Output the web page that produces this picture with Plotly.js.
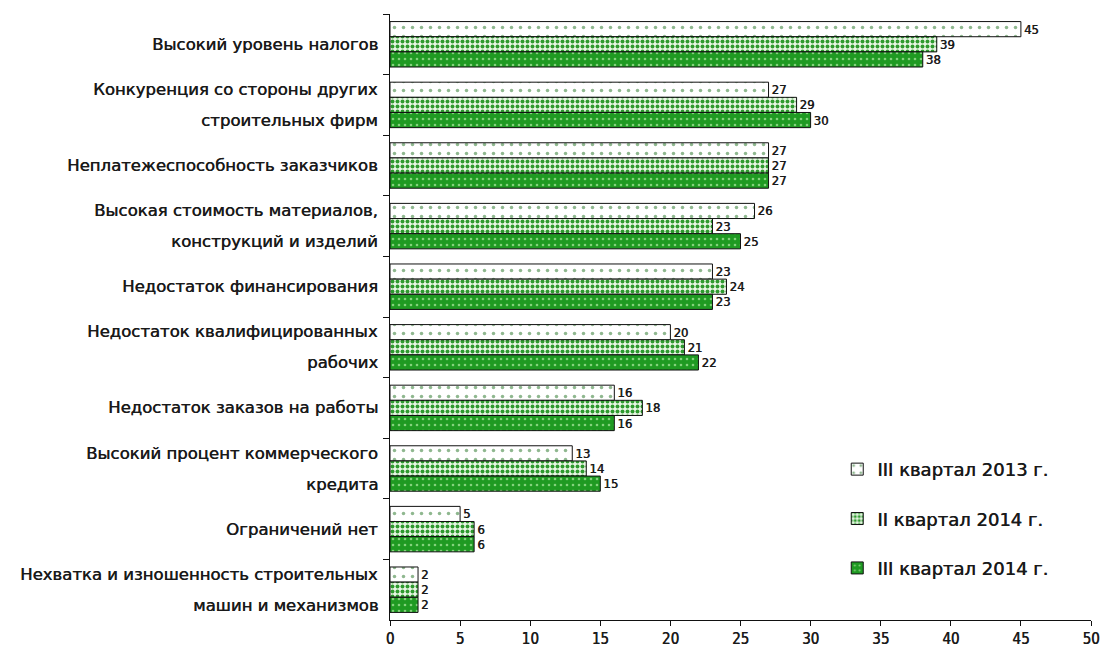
<!DOCTYPE html>
<html>
<head>
<meta charset="utf-8">
<script src="https://cdn.plot.ly/plotly-3.0.1.min.js"></script>
<style>
  html, body { margin: 0; padding: 0; background: #ffffff; }
  #chart { width: 1108px; height: 664px; }
</style>
</head>
<body>
<div id="chart"></div>
<script>
// Factors limiting construction activity, % of firms
const categories = [
  "Высокий уровень налогов",
  "Конкуренция со стороны других<br>строительных фирм",
  "Неплатежеспособность заказчиков",
  "Высокая стоимость материалов,<br>конструкций и изделий",
  "Недостаток финансирования",
  "Недостаток квалифицированных<br>рабочих",
  "Недостаток заказов на работы",
  "Высокий процент коммерческого<br>кредита",
  "Ограничений нет",
  "Нехватка и изношенность строительных<br>машин и механизмов"
];
const seriesNames = ["III квартал 2013 г.", "II квартал 2014 г.", "III квартал 2014 г."];
const q3_2013 = [45, 27, 27, 26, 23, 20, 16, 13, 5, 2];
const q2_2014 = [39, 29, 27, 23, 24, 21, 18, 14, 6, 2];
const q3_2014 = [38, 30, 27, 25, 23, 22, 16, 15, 6, 2];
const xTicks = [0, 5, 10, 15, 20, 25, 30, 35, 40, 45, 50];

const FONT_NARROW = "'DejaVu Sans Condensed', 'Liberation Sans Narrow', sans-serif";
const FONT_WIDE = "'DejaVu Sans', Verdana, sans-serif";
const INK = "#1a1a1a";
// a hairline offset copy gives the labels a medium weight
const THICKEN = "0.5px 0 0 #1a1a1a";

const patterns = [
  { shape: ".", bgcolor: "#ffffff", fgcolor: "#8fb88f", size: 9, solidity: 0.12 },
  { shape: ".", bgcolor: "#eaf7e6", fgcolor: "#2f9a2f", size: 5, solidity: 0.5 },
  { shape: ".", bgcolor: "#1f9a22", fgcolor: "#84d27c", size: 6, solidity: 0.15 }
];
const values = [q3_2013, q2_2014, q3_2014];

const traces = values.map((v, i) => ({
  type: "bar",
  orientation: "h",
  name: seriesNames[i],
  legendgroup: "g" + i,
  y: categories,
  x: v,
  text: v.map(String),
  textposition: "outside",
  cliponaxis: false,
  textfont: { family: FONT_NARROW, size: 13, color: INK, shadow: THICKEN },
  marker: {
    color: patterns[i].bgcolor,
    line: { color: "#111111", width: 1 },
    pattern: patterns[i]
  },
  hoverinfo: "x+name"
}));

// Category labels drawn line by line so the wrapped lines sit ~31px apart
const annotations = [];
categories.forEach(cat => {
  const lines = cat.split("<br>");
  lines.forEach((ln, k) => {
    annotations.push({
      xref: "paper", yref: "y",
      x: 0, y: cat,
      xanchor: "right", yanchor: "middle",
      xshift: -10,
      yshift: ((lines.length - 1) / 2 - k) * 31,
      text: ln,
      showarrow: false,
      font: { family: FONT_WIDE, size: 16.5, color: INK, shadow: THICKEN }
    });
  });
});

const layout = {
  width: 1108, height: 664,
  paper_bgcolor: "#ffffff",
  plot_bgcolor: "#ffffff",
  margin: { l: 390, r: 17, t: 14, b: 44 },
  barmode: "group",
  bargap: 0.25,
  bargroupgap: 0,
  showlegend: true,
  legend: {
    x: 0.638, y: 0.279, xanchor: "left", yanchor: "top",
    font: { family: FONT_WIDE, size: 18, color: INK, shadow: THICKEN },
    tracegroupgap: 23,
    itemwidth: 30,
    bgcolor: "rgba(0,0,0,0)"
  },
  xaxis: {
    range: [0, 50],
    tickvals: xTicks,
    ticktext: xTicks.map(String),
    showgrid: false,
    zeroline: false,
    showline: true, linecolor: "#111111", linewidth: 1,
    ticks: "outside", ticklen: 5, tickcolor: "#111111",
    tickfont: { family: FONT_NARROW, size: 15, color: INK, shadow: THICKEN },
    fixedrange: true
  },
  yaxis: {
    type: "category",
    autorange: "reversed",
    showticklabels: false,
    showgrid: false,
    zeroline: false,
    showline: true, linecolor: "#111111", linewidth: 1,
    ticks: "outside", ticklen: 6, tickcolor: "#111111",
    tickson: "boundaries",
    fixedrange: true
  },
  annotations: annotations
};

Plotly.newPlot("chart", traces, layout, { displayModeBar: false, staticPlot: true });
</script>
</body>
</html>
